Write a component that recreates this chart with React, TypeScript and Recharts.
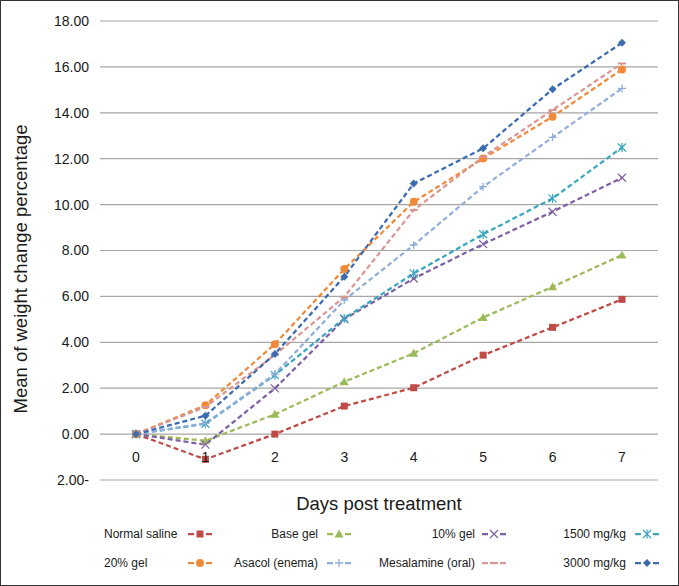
import { CartesianGrid, Legend, Line, LineChart, XAxis, YAxis } from "recharts"

const days = [0, 1, 2, 3, 4, 5, 6, 7]
const normalSaline = [0, -1.1, 0.0, 1.22, 2.02, 3.44, 4.65, 5.87]
const baseGel = [0, -0.29, 0.86, 2.28, 3.52, 5.08, 6.42, 7.8]
const gel10 = [0, -0.46, 1.99, 5.01, 6.78, 8.28, 9.69, 11.17]
const mg1500 = [0, 0.45, 2.57, 5.04, 7.0, 8.71, 10.27, 12.49]
const gel20 = [0, 1.26, 3.92, 7.19, 10.12, 12.01, 13.83, 15.89]
const asacol = [0, 0.47, 2.61, 5.84, 8.24, 10.78, 12.93, 15.06]
const mesalamine = [0, 1.18, 3.45, 5.98, 9.76, 12.08, 14.12, 16.15]
const mg3000 = [0, 0.8, 3.49, 6.86, 10.92, 12.45, 15.03, 17.05]
const yTicks = [-2, 0, 2, 4, 6, 8, 10, 12, 14, 16, 18]

const SERIES = [
  { key: "saline", name: "Normal saline", color: "#BE4B48", shape: "square", values: normalSaline },
  { key: "base", name: "Base gel", color: "#9BBB59", shape: "triangle", values: baseGel },
  { key: "g10", name: "10% gel", color: "#7E60A4", shape: "x", values: gel10 },
  { key: "m1500", name: "1500 mg/kg", color: "#3AA6BF", shape: "asterisk", values: mg1500 },
  { key: "g20", name: "20% gel", color: "#F08A3A", shape: "circle", values: gel20 },
  { key: "asacol", name: "Asacol (enema)", color: "#92AEDA", shape: "plus", values: asacol },
  { key: "mesa", name: "Mesalamine (oral)", color: "#D99694", shape: "dash", values: mesalamine },
  { key: "m3000", name: "3000 mg/kg", color: "#3C6CB0", shape: "diamond", values: mg3000 },
]

const data = days.map((d, i) => {
  const row: Record<string, number> = { day: d }
  SERIES.forEach((s) => (row[s.key] = s.values[i]))
  return row
})

const FONT = "'Liberation Sans', Arial, sans-serif"

function Marker({ shape, cx, cy, color }: { shape: string; cx: number; cy: number; color: string }) {
  switch (shape) {
    case "square":
      return <rect x={cx - 3.5} y={cy - 3.5} width={7} height={7} fill={color} />
    case "triangle":
      return <path d={`M${cx},${cy - 4.5}L${cx + 4.5},${cy + 3.5}L${cx - 4.5},${cy + 3.5}Z`} fill={color} />
    case "x":
      return (
        <path
          d={`M${cx - 4},${cy - 4}L${cx + 4},${cy + 4}M${cx - 4},${cy + 4}L${cx + 4},${cy - 4}`}
          stroke={color}
          strokeWidth={1.2}
        />
      )
    case "asterisk":
      return (
        <path
          d={`M${cx - 4},${cy - 4}L${cx + 4},${cy + 4}M${cx - 4},${cy + 4}L${cx + 4},${cy - 4}M${cx},${cy - 4.5}V${cy + 4.5}`}
          stroke={color}
          strokeWidth={1.2}
        />
      )
    case "circle":
      return <circle cx={cx} cy={cy} r={4} fill={color} />
    case "plus":
      return <path d={`M${cx - 4},${cy}H${cx + 4}M${cx},${cy - 4}V${cy + 4}`} stroke={color} strokeWidth={1.3} />
    case "dash":
      return <path d={`M${cx - 4},${cy}H${cx + 4}`} stroke={color} strokeWidth={2} />
    case "diamond":
      return <path d={`M${cx},${cy - 4}L${cx + 4},${cy}L${cx},${cy + 4}L${cx - 4},${cy}Z`} fill={color} />
    default:
      return null
  }
}

const XTick = ({ x, y, payload }: any) => (
  <text x={x} y={y - 31} textAnchor="middle" dominantBaseline="central" fontSize={14} fill="#1a1a1a" fontFamily={FONT}>
    {payload.value}
  </text>
)

const YTitle = () => (
  <text
    x={19}
    y={268}
    transform="rotate(-90, 19, 268)"
    textAnchor="middle"
    dominantBaseline="central"
    fontSize={18.5}
    fill="#1a1a1a"
    fontFamily={FONT}
  >
    Mean of weight change percentage
  </text>
)

// legend column positions (symbol left edge, text alignment)
const LEGEND_COLS = [
  { sym: 187, align: "left", textX: 103 },
  { sym: 326, align: "right", textX: 317 },
  { sym: 481, align: "right", textX: 474 },
  { sym: 634, align: "right", textX: 625 },
]

function LegendBox({ payload }: any) {
  const order = SERIES.map((s) => s.name)
  const items = [...(payload || [])].sort((a: any, b: any) => order.indexOf(a.value) - order.indexOf(b.value))
  return (
    <div style={{ position: "relative", width: 677, height: 60, fontFamily: FONT, fontSize: 12, color: "#1a1a1a" }}>
      {items.map((it: any, i: number) => {
        const col = LEGEND_COLS[i % 4]
        const top = i < 4 ? 13 : 42
        const s = SERIES.find((q) => q.name === it.value)
        const color = s ? s.color : it.color
        const textStyle: any =
          col.align === "left"
            ? { position: "absolute", left: col.textX, top: top - 8, whiteSpace: "nowrap", lineHeight: "16px" }
            : { position: "absolute", right: 677 - col.textX, top: top - 8, whiteSpace: "nowrap", lineHeight: "16px" }
        return (
          <div key={it.value}>
            <span style={textStyle}>{it.value}</span>
            <svg width={24} height={12} style={{ position: "absolute", left: col.sym, top: top - 6 }}>
              <path d="M0,6H6M18,6H24" stroke={color} strokeWidth={2.25} />
              {s && s.shape === "dash" ? (
                <path d="M8,6H16" stroke={color} strokeWidth={2.25} />
              ) : (
                <Marker shape={s ? s.shape : "circle"} cx={12} cy={6} color={color} />
              )}
            </svg>
          </div>
        )
      })}
    </div>
  )
}

export default function App() {
  return (
    <div
      style={{
        position: "absolute",
        left: 0,
        top: 0,
        width: 679,
        height: 586,
        boxSizing: "border-box",
        border: "1px solid #333",
        background: "#fff",
      }}
    >
      <LineChart
        width={677}
        height={584}
        data={data}
        margin={{ top: 20, right: 20, bottom: 75, left: 0 }}
        style={{ fontFamily: FONT }}
      >
        <CartesianGrid vertical={false} stroke="#A6A6A6" strokeWidth={1.2} />
        <XAxis
          dataKey="day"
          type="category"
          padding={{ left: 36, right: 36 }}
          axisLine={false}
          tickLine={false}
          height={30}
          tick={<XTick />}
          label={{ value: "Days post treatment", position: "insideBottom", offset: 0, fontSize: 18.5, fill: "#1a1a1a" }}
        />
        <YAxis
          type="number"
          domain={[-2, 18]}
          ticks={yTicks}
          interval={0}
          width={99}
          axisLine={false}
          tickLine={false}
          tickMargin={5}
          tick={{ fontSize: 14, fill: "#1a1a1a" }}
          tickFormatter={(v: number) => (v < 0 ? `${Math.abs(v).toFixed(2)}-` : v.toFixed(2))}
          label={<YTitle />}
        />
        <Legend
          layout="horizontal"
          verticalAlign="middle"
          align="center"
          wrapperStyle={{ top: 520, left: 0, width: 677, height: 60 }}
          content={<LegendBox />}
        />
        {SERIES.map((s) => (
          <Line
            key={s.key}
            dataKey={s.key}
            name={s.name}
            stroke={s.color}
            strokeWidth={2.25}
            strokeDasharray="5 3"
            isAnimationActive={false}
            dot={(p: any) => <Marker key={`${s.key}-${p.index}`} shape={s.shape} cx={p.cx} cy={p.cy} color={s.color} />}
            activeDot={false}
          />
        ))}
      </LineChart>
    </div>
  )
}
